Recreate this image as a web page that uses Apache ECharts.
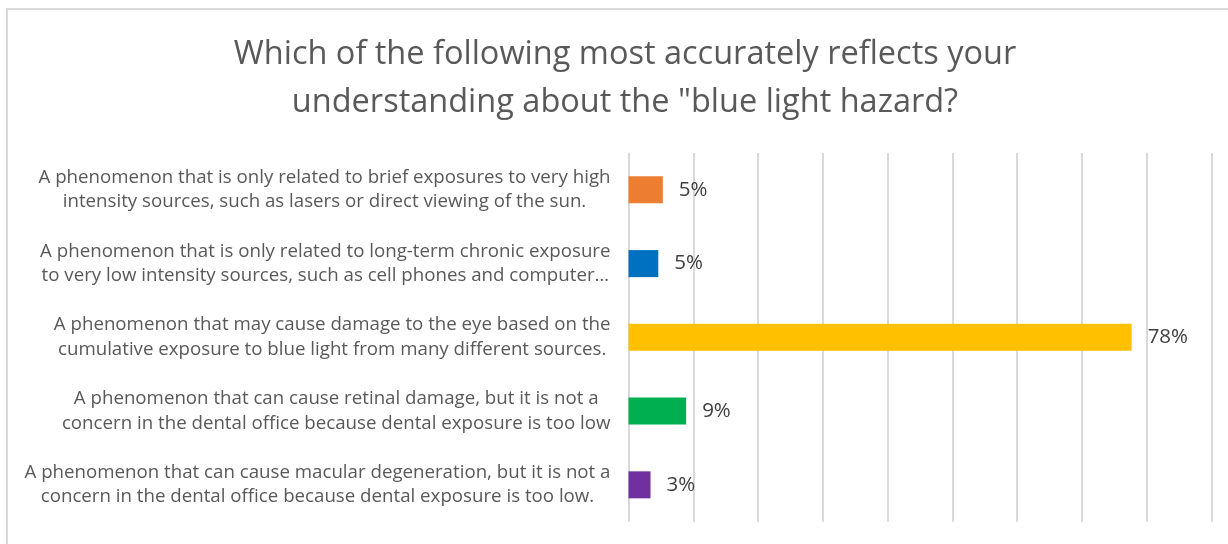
<!DOCTYPE html>
<html>
<head>
<meta charset="utf-8">
<script src="https://cdn.jsdelivr.net/npm/echarts@6/dist/echarts.min.js"></script>
<style>
  html, body { margin: 0; padding: 0; background: #fff; }
  #chart { width: 1228px; height: 544px; }
</style>
</head>
<body>
<div id="chart"></div>
<script>
const titleText = 'Which of the following most accurately reflects your\nunderstanding about the "blue light hazard?';

const categories = [
  ['A phenomenon that is only related to brief exposures to very high', 'intensity sources, such as lasers or direct viewing of the sun.'],
  ['A phenomenon that is only related to long-term chronic exposure', 'to very low intensity sources, such as cell phones and computer\u2026'],
  ['A phenomenon that may cause damage to the eye based on the', 'cumulative exposure to blue light from many different sources.'],
  ['A phenomenon that can cause retinal damage, but it is not a', 'concern in the dental office because dental exposure is too low'],
  ['A phenomenon that can cause macular degeneration, but it is not a', 'concern in the dental office because dental exposure is too low.']
];

const values = [5.3, 4.6, 77.7, 8.9, 3.4];

const barColors = ['#ED7D31', '#0070C0', '#FFC000', '#00B050', '#7030A0'];

const xMin = 0;
const xMax = 90;
const xStep = 10;

const FONT = '"Open Sans", "Noto Sans", sans-serif';

const chart = echarts.init(document.getElementById('chart'));
chart.setOption({
  backgroundColor: '#ffffff',
  animation: false,
  graphic: [{
    type: 'rect',
    silent: true,
    shape: { x: 7, y: 9, width: 1400, height: 800 },
    style: { fill: 'none', stroke: '#d9d9d9', lineWidth: 2 }
  }],
  title: {
    text: titleText,
    left: 625,
    top: 31,
    textAlign: 'center',
    padding: 0,
    textStyle: {
      fontFamily: FONT,
      fontSize: 32.5,
      fontWeight: 'normal',
      color: '#595959',
      lineHeight: 48
    }
  },
  grid: {
    left: 628.5,
    right: 16.7,
    top: 153,
    bottom: 22.3,
    containLabel: false
  },
  xAxis: {
    type: 'value',
    min: xMin,
    max: xMax,
    interval: xStep,
    axisLabel: { show: false },
    axisLine: { show: false },
    axisTick: { show: false },
    splitLine: {
      show: true,
      showMinLine: true,
      showMaxLine: true,
      lineStyle: { color: '#d9d9d9', width: 2 }
    }
  },
  yAxis: {
    type: 'category',
    inverse: true,
    data: categories.map(function (c, i) { return String(i); }),
    axisLine: { show: false },
    axisTick: { show: false },
    axisLabel: {
      interval: 0,
      margin: 18,
      align: 'right',
      formatter: function (v) {
        const lines = categories[Number(v)];
        return lines.map(function (l) { return '{c|' + l + '}'; }).join('\n');
      },
      rich: {
        c: {
          align: 'center',
          fontFamily: FONT,
          fontSize: 18.7,
          lineHeight: 24.5,
          color: '#595959'
        }
      }
    }
  },
  series: [{
    type: 'bar',
    barWidth: 27,
    data: values.map(function (v, i) {
      return { value: v, itemStyle: { color: barColors[i] } };
    }),
    label: {
      show: true,
      position: 'right',
      distance: 16,
      fontFamily: FONT,
      fontSize: 20.5,
      color: '#404040',
      formatter: function (p) { return Math.round(p.value) + '%'; }
    }
  }]
});
</script>
</body>
</html>
